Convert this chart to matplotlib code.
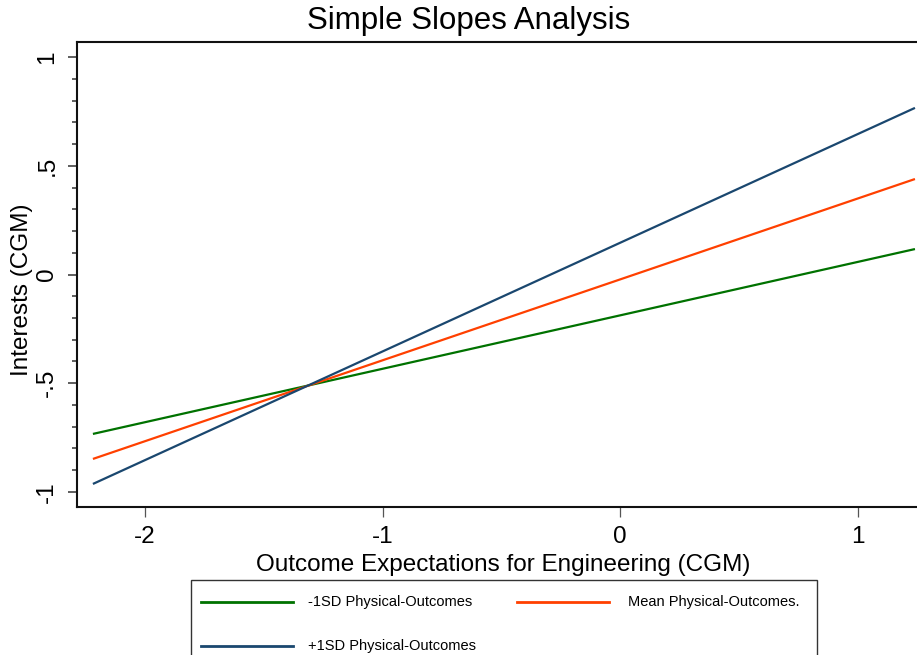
import matplotlib
matplotlib.use("Agg")
import matplotlib.pyplot as plt
from matplotlib.lines import Line2D
from matplotlib.patches import Rectangle
from matplotlib.ticker import FixedLocator, MultipleLocator

plt.rcParams['font.family'] = ['Liberation Sans', 'DejaVu Sans']
plt.rcParams['axes.unicode_minus'] = False

# data: predicted interests at the two ends of the x range
x_ends = [-2.219, 1.240]
series_names = ['-1SD Physical-Outcomes', 'Mean Physical-Outcomes.', '+1SD Physical-Outcomes']
y_low_sd = [-0.733, 0.117]
y_mean = [-0.848, 0.439]
y_high_sd = [-0.963, 0.766]
colors = ['#007200', '#ff4000', '#1a476f']

x_ticks = [-2, -1, 0, 1]
x_ticklabels = ['-2', '-1', '0', '1']
y_ticks = [-1, -0.5, 0, 0.5, 1]
y_ticklabels = ['-1', '-.5', '0', '.5', '1']

W, H = 917, 655
fig = plt.figure(figsize=(W / 100, H / 100), dpi=100)
fig.patch.set_facecolor('white')


def fx(px):
    return px / W


def fy(py):
    return 1 - py / H


# axes box in pixels: left 77, top 42, bottom 507, right just past the canvas
ax = fig.add_axes([fx(77), fy(507), fx(842), (507 - 42) / H])

for yv, c in zip([y_low_sd, y_mean, y_high_sd], colors):
    ax.plot(x_ends, yv, color=c, linewidth=1.6, solid_capstyle='butt')

ax.set_xlim(-2.286, 1.257)
ax.set_ylim(-1.069, 1.069)

ax.xaxis.set_major_locator(FixedLocator(x_ticks))
ax.set_xticklabels(x_ticklabels)
ax.yaxis.set_major_locator(FixedLocator(y_ticks))
ax.set_yticklabels(y_ticklabels, rotation=90, va='center')
ax.yaxis.set_minor_locator(MultipleLocator(0.1))

ax.tick_params(axis='x', length=7, width=0.9, color='#555555', labelsize=17.5, pad=7)
ax.tick_params(axis='y', which='major', length=6.5, width=1.1, color='#333333', labelsize=17.5, pad=7)
ax.tick_params(axis='y', which='minor', length=3.6, width=1.1, color='#333333')

for side in ['left', 'bottom', 'top']:
    ax.spines[side].set_linewidth(1.5)
    ax.spines[side].set_color('#111111')
ax.spines['right'].set_visible(False)

# title and axis titles
fig.text(fx(469), fy(29), 'Simple Slopes Analysis', fontsize=22.5, ha='center', va='baseline')
fig.text(fx(503), fy(571), 'Outcome Expectations for Engineering (CGM)', fontsize=17.5,
         ha='center', va='baseline')
fig.text(fx(22), fy(290), 'Interests (CGM)', fontsize=17.5, rotation=90,
         ha='center', va='center')

# legend box (cut by the bottom edge of the image)
fig.add_artist(Rectangle((fx(191), fy(672)), fx(817 - 191), (672 - 580) / H,
                         transform=fig.transFigure, facecolor='white',
                         edgecolor='#333333', linewidth=1.0))
slots = [(201, 293, 308, 602), (517, 609, 628, 602), (201, 293, 308, 646)]
legend_order = [0, 1, 2]
for i, (x0, x1, xt, yr) in zip(legend_order, slots):
    fig.add_artist(Line2D([fx(x0), fx(x1)], [fy(yr), fy(yr)], transform=fig.transFigure,
                          color=colors[i], linewidth=2.0))
    fig.text(fx(xt), fy(yr), series_names[i], fontsize=10.5, ha='left', va='center')

fig.savefig('out.png', dpi=100, facecolor='white')
